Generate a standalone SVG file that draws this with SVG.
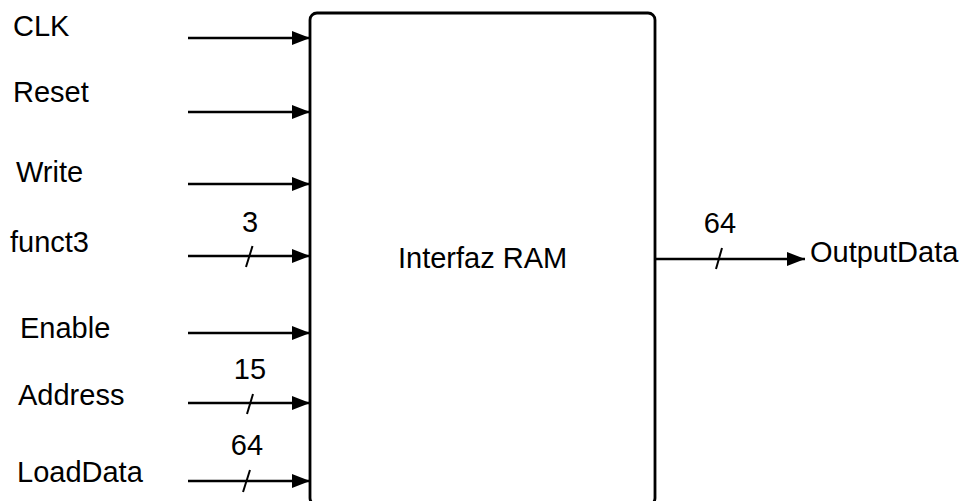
<svg xmlns="http://www.w3.org/2000/svg" width="965" height="501" viewBox="0 0 965 501">
<defs>
<marker id="ah" markerUnits="userSpaceOnUse" markerWidth="20" markerHeight="16" refX="18" refY="7" orient="auto">
<path d="M0,0 L18,7 L0,14 Z" fill="#000"/>
</marker>
<style>
text{font-family:"Liberation Sans",Arial,sans-serif;font-size:29px;fill:#000}
.w{stroke:#000;stroke-width:2.6;fill:none}
.s{stroke:#000;stroke-width:2;fill:none}
.box{stroke:#000;stroke-width:2.8;fill:#fff}
.c{text-anchor:middle}
</style>
</defs>
<rect width="965" height="501" fill="#fff"/>
<g id="ram">
<rect class="box" x="310" y="13" width="345" height="492" rx="7"/>
<text x="398" y="268">Interfaz RAM</text>
</g>
<g id="in-clk"><text x="13" y="36">CLK</text></g>
<g id="in-reset"><text x="13" y="102">Reset</text></g>
<g id="in-write"><text x="16" y="182">Write</text></g>
<g id="in-funct3"><text x="10" y="252">funct3</text><text class="c" x="250" y="232">3</text></g>
<g id="in-enable"><text x="20" y="338">Enable</text></g>
<g id="in-address"><text x="18" y="405">Address</text><text class="c" x="250" y="379">15</text></g>
<g id="in-loaddata"><text x="17" y="482">LoadData</text><text class="c" x="247" y="455">64</text></g>
<g id="out-outputdata"><text x="810" y="262">OutputData</text><text class="c" x="720" y="233">64</text></g>
<g id="connectors">
<line class="w" x1="188" y1="38" x2="310" y2="38" marker-end="url(#ah)"/>
<line class="w" x1="188" y1="112" x2="310" y2="112" marker-end="url(#ah)"/>
<line class="w" x1="188" y1="184" x2="310" y2="184" marker-end="url(#ah)"/>
<line class="w" x1="188" y1="256" x2="310" y2="256" marker-end="url(#ah)"/>
<line class="w" x1="188" y1="333" x2="310" y2="333" marker-end="url(#ah)"/>
<line class="w" x1="188" y1="403" x2="310" y2="403" marker-end="url(#ah)"/>
<line class="w" x1="188" y1="481" x2="310" y2="481" marker-end="url(#ah)"/>
<line class="w" x1="655" y1="259" x2="805" y2="259" marker-end="url(#ah)"/>
<line class="s" x1="252.5" y1="246" x2="246" y2="267"/>
<line class="s" x1="253" y1="394" x2="247" y2="414"/>
<line class="s" x1="250" y1="470" x2="243" y2="492"/>
<line class="s" x1="722" y1="248" x2="716" y2="269"/>
</g>
</svg>
